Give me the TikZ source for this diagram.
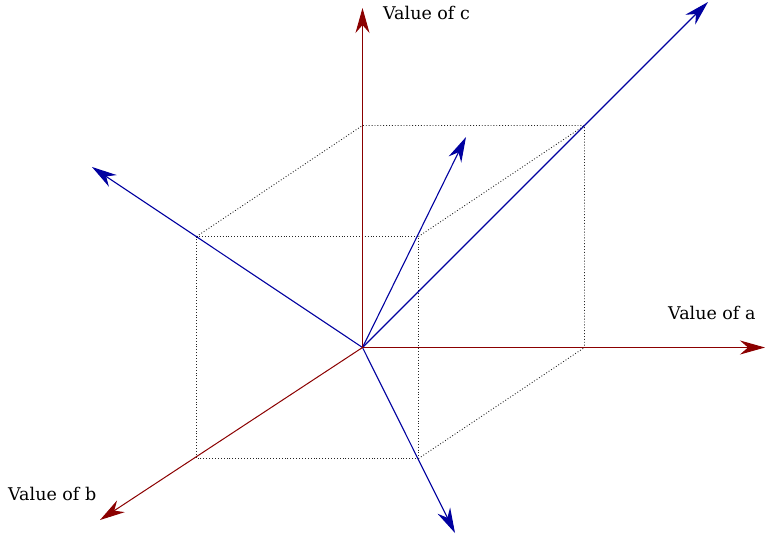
\documentclass[tikz,border=0pt]{standalone}
\usepackage{fontspec}
\setmainfont{DejaVu Serif}
\usetikzlibrary{arrows.meta}
\definecolor{axred}{RGB}{139,0,0}
\definecolor{vecblue}{RGB}{0,0,160}
\begin{document}
\begin{tikzpicture}[x=1pt,y=-1pt,
  axis/.style={draw=axred,line width=1pt,-{Stealth[length=25pt,width=14pt,inset=8pt]}},
  vec/.style={draw=vecblue,line width=1.1pt,-{Stealth[length=25pt,width=14pt,inset=8pt]}},
  cube/.style={draw=black!85,line width=0.9pt,dotted},
  lab/.style={font=\fontsize{17.5}{20}\selectfont,inner sep=0pt,anchor=base west}]
\useasboundingbox (0,0) rectangle (765,544);
\coordinate (O) at (362.5,347.5);
\coordinate (A) at (765,347.5);
\coordinate (B) at (100,520);
\coordinate (C) at (362.5,8);
% cube
\coordinate (f1) at (196.5,236.5);
\coordinate (f2) at (418.5,236.5);
\coordinate (f3) at (418.5,458.5);
\coordinate (f4) at (196.5,458.5);
\coordinate (b1) at (362.5,125.5);
\coordinate (b2) at (584.5,125.5);
\coordinate (b3) at (584.5,347.5);
\draw[cube] (f1) -- (f2) -- (f3) -- (f4) -- cycle;
\draw[cube] (f1) -- (b1) -- (b2) -- (b3) -- (O);
\draw[cube] (f2) -- (b2);
\draw[cube] (f3) -- (b3);
% vectors
\coordinate (v1) at (708,2);
\coordinate (v2) at (466,137);
\coordinate (v3) at (92,167);
\coordinate (v4) at (455,533);
\draw[vec] (O) -- (v1);
\draw[vec] (O) -- (v2);
\draw[vec] (O) -- (v3);
\draw[vec] (O) -- (v4);
% axes
\draw[axis] (O) -- (A);
\draw[axis] (O) -- (B);
\draw[axis] (O) -- (C);
\node[lab] (la) at (668,319) {Value of a};
\node[lab] (lb) at (8,500) {Value of b};
\node[lab] (lc) at (383,19) {Value of c};
\end{tikzpicture}
\end{document}
